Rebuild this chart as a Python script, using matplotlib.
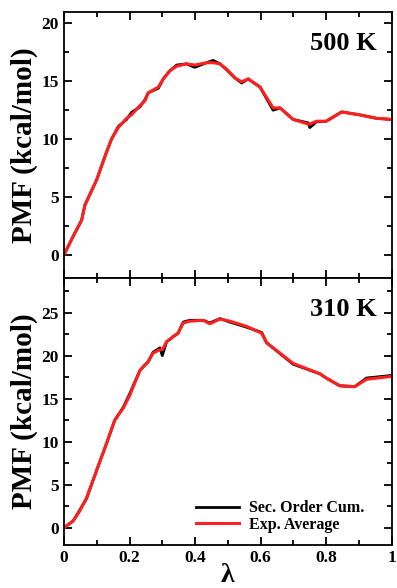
import numpy as np
import matplotlib.pyplot as plt
from matplotlib.ticker import MultipleLocator

plt.rcParams['font.family'] = ['Liberation Serif', 'DejaVu Serif']
plt.rcParams['font.weight'] = 'bold'
plt.rcParams['axes.labelweight'] = 'bold'

# -----------------------------
# Data
# -----------------------------
lam_500 = [0.0, 0.028, 0.054, 0.064, 0.10, 0.125, 0.145, 0.166, 0.191, 0.206,
           0.232, 0.247, 0.257, 0.288, 0.303, 0.323, 0.344, 0.374, 0.399, 0.435,
           0.455, 0.476, 0.496, 0.521, 0.542, 0.562, 0.598, 0.638, 0.659, 0.699,
           0.745, 0.75, 0.77, 0.80, 0.847, 0.902, 0.953, 1.0]
exp_500 = [0.0, 1.6, 3.0, 4.3, 6.5, 8.5, 10.0, 11.0, 11.8, 12.1,
           12.9, 13.3, 14.0, 14.5, 15.2, 15.9, 16.3, 16.5, 16.4, 16.6,
           16.6, 16.5, 16.05, 15.3, 14.95, 15.2, 14.5, 12.7, 12.7, 11.7,
           11.3, 11.3, 11.55, 11.55, 12.35, 12.1, 11.8, 11.7]
cum_500 = [0.0, 1.6, 3.0, 4.3, 6.5, 8.5, 10.0, 11.1, 11.7, 12.3,
           12.8, 13.4, 14.0, 14.4, 15.2, 15.9, 16.4, 16.5, 16.2, 16.6,
           16.8, 16.5, 16.0, 15.3, 14.85, 15.2, 14.5, 12.5, 12.7, 11.7,
           11.4, 11.0, 11.5, 11.55, 12.35, 12.1, 11.8, 11.7]

lam_310 = [0.0, 0.028, 0.049, 0.069, 0.10, 0.13, 0.155, 0.181, 0.201, 0.232,
           0.257, 0.272, 0.293, 0.30, 0.313, 0.333, 0.348, 0.364, 0.384, 0.425,
           0.445, 0.476, 0.506, 0.557, 0.603, 0.618, 0.699, 0.78, 0.80, 0.841,
           0.887, 0.923, 1.0]
exp_310 = [0.0, 0.8, 2.0, 3.5, 6.7, 9.8, 12.5, 13.9, 15.4, 18.3,
           19.3, 20.3, 20.7, 20.7, 21.6, 22.2, 22.6, 23.8, 24.0, 24.1,
           23.7, 24.25, 24.0, 23.4, 22.6, 21.5, 19.1, 17.9, 17.4, 16.5,
           16.4, 17.25, 17.6]
cum_310 = [0.0, 0.8, 2.1, 3.4, 6.7, 9.8, 12.5, 14.0, 15.6, 18.3,
           19.3, 20.4, 20.9, 20.0, 21.6, 22.2, 22.6, 23.9, 24.1, 24.1,
           23.8, 24.3, 23.9, 23.3, 22.7, 21.5, 19.0, 17.9, 17.4, 16.5,
           16.4, 17.4, 17.7]

# -----------------------------
# Figure
# -----------------------------
fig = plt.figure(figsize=(3.97, 5.88), dpi=100)
ax1 = fig.add_axes([0.161, 0.527, 0.826, 0.453])
ax2 = fig.add_axes([0.161, 0.073, 0.826, 0.454], sharex=ax1)

panels = [(ax1, lam_500, cum_500, exp_500, '500 K', (-2, 21)),
          (ax2, lam_310, cum_310, exp_310, '310 K', (-2, 29))]

for ax, lam, cum, ex, label, ylim in panels:
    ax.plot(lam, cum, color='black', lw=2.0, label='Sec. Order Cum.')
    ax.plot(lam, ex, color='#ff2020', lw=2.2, label='Exp. Average')
    ax.set_xlim(0, 1)
    ax.set_ylim(*ylim)
    ax.xaxis.set_major_locator(MultipleLocator(0.2))
    ax.xaxis.set_minor_locator(MultipleLocator(0.1))
    ax.yaxis.set_major_locator(MultipleLocator(5))
    ax.yaxis.set_minor_locator(MultipleLocator(2.5))
    ax.tick_params(which='both', direction='in', top=True, right=True,
                   width=1.3, labelsize=12.5)
    ax.tick_params(which='major', length=6)
    ax.tick_params(which='minor', length=3.5)
    for s in ax.spines.values():
        s.set_linewidth(1.3)
    ax.set_ylabel('PMF (kcal/mol)', fontsize=21, labelpad=3)
    ax.text(0.955, 0.925, label, transform=ax.transAxes, ha='right', va='top',
            fontsize=19)

ax1.tick_params(labelbottom=False)
ax2.set_xticks([0, 0.2, 0.4, 0.6, 0.8, 1.0])
ax2.set_xticklabels(['0', '0.2', '0.4', '0.6', '0.8', '1'])
ax2.set_xlabel('λ', fontsize=20, labelpad=-2)
ax2.legend(loc='lower right', bbox_to_anchor=(0.915, 0.045), frameon=False,
           fontsize=11.5, handlelength=2.7, handletextpad=0.6,
           borderaxespad=0, borderpad=0, labelspacing=0.05)

plt.savefig('out.png')
